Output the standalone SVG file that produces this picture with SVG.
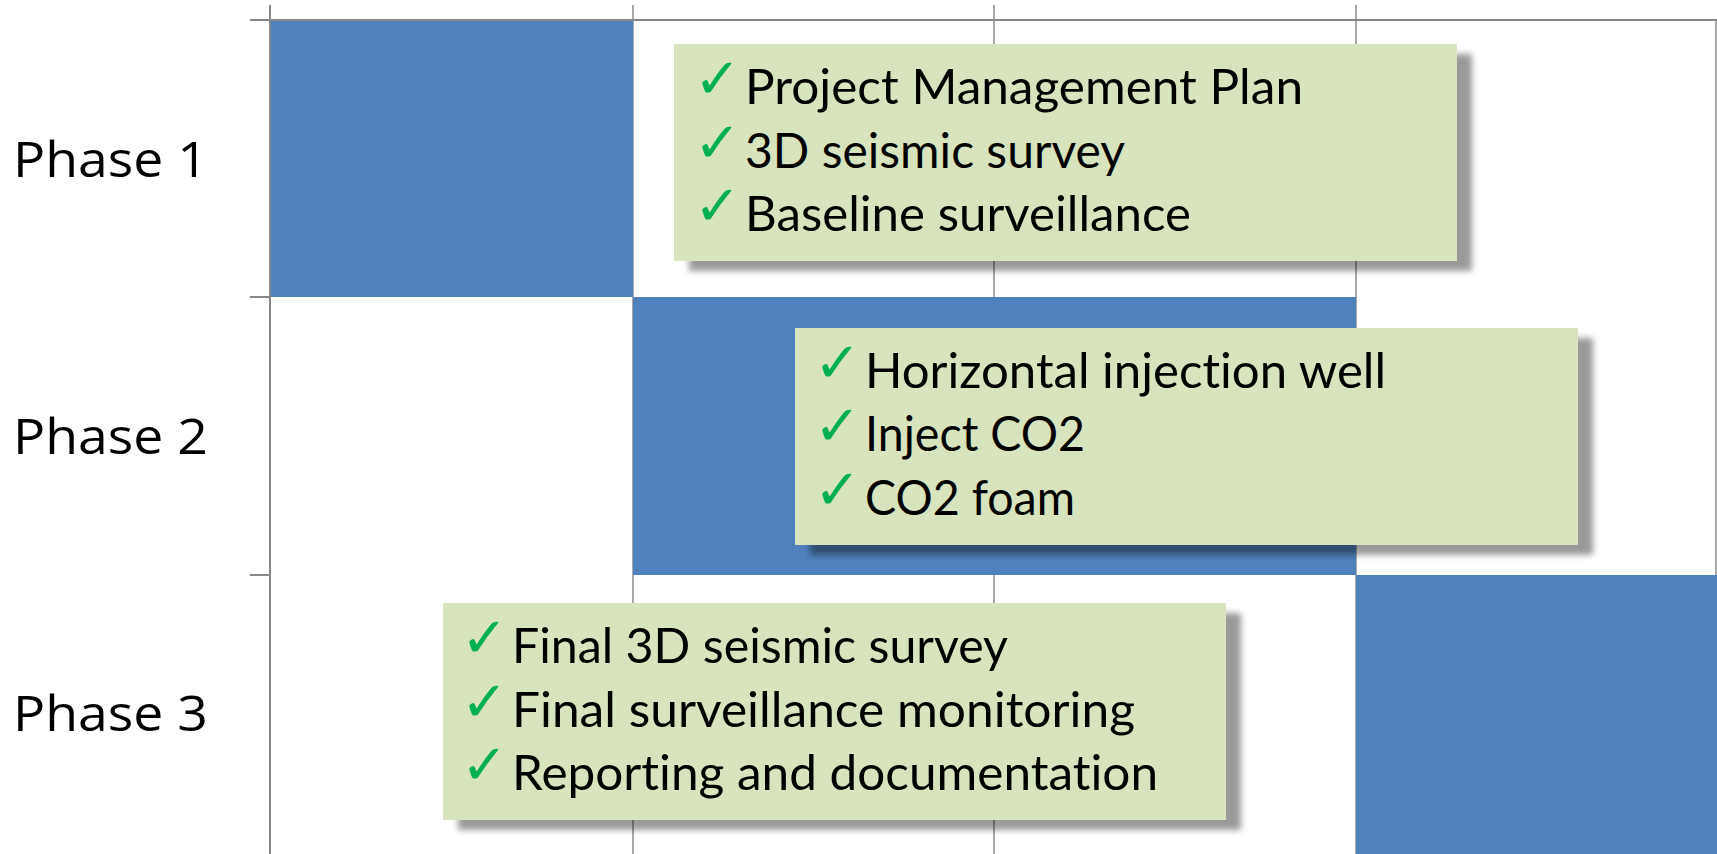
<svg xmlns="http://www.w3.org/2000/svg" width="1717" height="854" viewBox="0 0 1717 854">
  <defs>
    <filter id="shadow" x="-5%" y="-10%" width="115%" height="130%">
      <feOffset in="SourceAlpha" dx="15" dy="10" result="off"/>
      <feGaussianBlur in="off" stdDeviation="3" result="blur"/>
      <feComponentTransfer in="blur" result="shade">
        <feFuncA type="linear" slope="0.4"/>
      </feComponentTransfer>
      <feMerge>
        <feMergeNode in="shade"/>
        <feMergeNode in="SourceGraphic"/>
      </feMerge>
    </filter>
  </defs>
  <style>
    .grid { stroke: #8c8c8c; stroke-width: 1.5; fill: none; }
    .axis { stroke: #888888; stroke-width: 2; fill: none; }
    .bar { fill: #4f81bd; }
    .note { fill: #d7e4bd; filter: url(#shadow); }
    .phase { font-family: "Open Sans", "Noto Sans", sans-serif; font-size: 50px; fill: #000; }
    .item { font-family: Lato, "Liberation Sans", sans-serif; font-size: 48px; fill: #000; font-variant-ligatures: none; }
    .tick { font-family: "DejaVu Sans", sans-serif; font-size: 56px; font-weight: bold; fill: #00b050; }
  </style>

  <rect width="1717" height="854" fill="#ffffff"/>

  <!-- chart grid and axes -->
  <g id="grid">
    <line class="grid" x1="633" y1="5" x2="633" y2="854"/>
    <line class="grid" x1="994" y1="5" x2="994" y2="854"/>
    <line class="grid" x1="1356" y1="5" x2="1356" y2="854"/>
    <line class="grid" x1="1716" y1="20" x2="1716" y2="854"/>
    <line class="axis" x1="250" y1="20" x2="1717" y2="20"/>
    <line class="axis" x1="270" y1="5" x2="270" y2="854"/>
    <line class="axis" x1="250" y1="297" x2="270" y2="297"/>
    <line class="axis" x1="250" y1="575" x2="270" y2="575"/>
  </g>

  <!-- phase bars -->
  <g id="bar-phase1"><rect class="bar" x="271" y="21" width="362" height="276"/></g>
  <g id="bar-phase2"><rect class="bar" x="633" y="297" width="723" height="278"/></g>
  <g id="bar-phase3"><rect class="bar" x="1356" y="575" width="361" height="279"/></g>

  <!-- row labels -->
  <g id="label-phase1"><text class="phase" x="13" y="177" textLength="195" lengthAdjust="spacingAndGlyphs">Phase 1</text></g>
  <g id="label-phase2"><text class="phase" x="13" y="454" textLength="195" lengthAdjust="spacingAndGlyphs">Phase 2</text></g>
  <g id="label-phase3"><text class="phase" x="13" y="731" textLength="195" lengthAdjust="spacingAndGlyphs">Phase 3</text></g>

  <!-- task notes -->
  <g id="note-phase1">
    <rect class="note" x="674" y="44" width="783" height="217"/>
    <text class="tick" x="694" y="98">✓</text>
    <text class="tick" x="694" y="162">✓</text>
    <text class="tick" x="694" y="225">✓</text>
    <text class="item" x="745" y="104" textLength="558" lengthAdjust="spacingAndGlyphs">Project Management Plan</text>
    <text class="item" x="745" y="168" textLength="380" lengthAdjust="spacingAndGlyphs">3D seismic survey</text>
    <text class="item" x="745" y="231" textLength="446" lengthAdjust="spacingAndGlyphs">Baseline surveillance</text>
  </g>

  <g id="note-phase2">
    <rect class="note" x="795" y="328" width="783" height="217"/>
    <text class="tick" x="814" y="382">✓</text>
    <text class="tick" x="814" y="445">✓</text>
    <text class="tick" x="814" y="509">✓</text>
    <text class="item" x="865" y="388" textLength="521" lengthAdjust="spacingAndGlyphs">Horizontal injection well</text>
    <text class="item" x="865" y="451" textLength="220" lengthAdjust="spacingAndGlyphs">Inject CO2</text>
    <text class="item" x="865" y="515" textLength="210" lengthAdjust="spacingAndGlyphs">CO2 foam</text>
  </g>

  <g id="note-phase3">
    <rect class="note" x="443" y="603" width="783" height="217"/>
    <text class="tick" x="461" y="657">✓</text>
    <text class="tick" x="461" y="721">✓</text>
    <text class="tick" x="461" y="784">✓</text>
    <text class="item" x="512" y="663" textLength="496" lengthAdjust="spacingAndGlyphs">Final 3D seismic survey</text>
    <text class="item" x="512" y="727" textLength="623" lengthAdjust="spacingAndGlyphs">Final surveillance monitoring</text>
    <text class="item" x="512" y="790" textLength="646" lengthAdjust="spacingAndGlyphs">Reporting and documentation</text>
  </g>
</svg>
